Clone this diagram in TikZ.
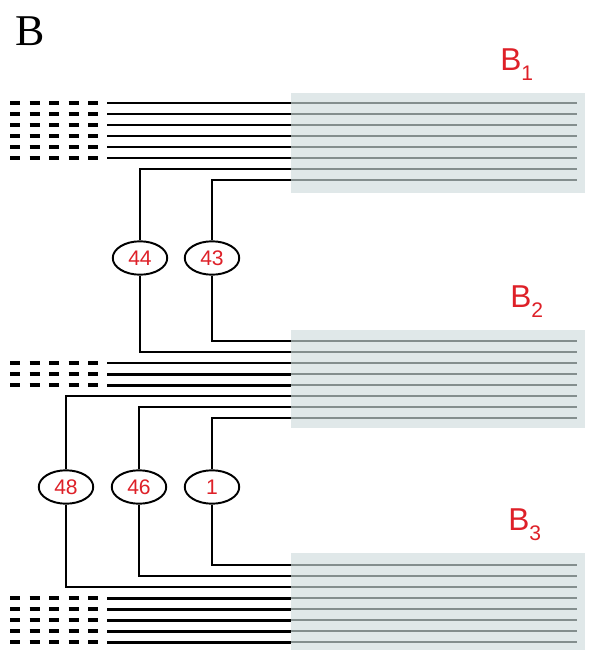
\documentclass[tikz,border=0pt]{standalone}
\usepackage{fontspec}
\setmainfont{Liberation Serif}
\newfontfamily\labelfont{Liberation Sans}
\usetikzlibrary{positioning,shapes.geometric}
\definecolor{softgrey}{RGB}{224,232,233}
\definecolor{wiregrey}{RGB}{132,142,142}
\definecolor{labelred}{RGB}{222,32,40}
\tikzset{
    wire/.style={
        line width=1.7pt,
        black
    },
    dashwire/.style={
        line width=1.8pt,
        black,
        dash pattern=on 5.7pt off 5.4pt
    },
    link/.style={
        line width=1.1pt,
        black
    },
    greyline/.style={
        line width=1.3pt,
        wiregrey
    },
    band/.style={
        fill=softgrey,
        draw=none
    },
    bond/.style={
        draw,
        ellipse,
        line width=1.1pt,
        fill=white,
        minimum width=31pt,
        minimum height=19pt,
        inner sep=0pt,
        font=\labelfont\fontsize{12}{12}\selectfont,
        text=labelred
    },
    blocklabel/.style={
        font=\labelfont\fontsize{18}{18}\selectfont,
        text=labelred,
        anchor=base west,
        inner sep=0pt
    }
}

\begin{document}
\begin{tikzpicture}[x=0.2mm,y=-0.2mm]

\useasboundingbox (0,0) rectangle (591,650);

% Grey bands
\fill[band] (291,93) rectangle (585,193);
\fill[band] (291,330) rectangle (585,428);
\fill[band] (291,553) rectangle (585,650);

% Strands inside the bands
\foreach \y [count=\i] in {103,114,...,180} {
    \coordinate (b1r\i) at (291,\y);
    \draw[greyline] (b1r\i) -- (577,\y);
}
\foreach \y [count=\i] in {341,352,...,418} {
    \coordinate (b2r\i) at (291,\y);
    \draw[greyline] (b2r\i) -- (577,\y);
}
\foreach \y [count=\i] in {565,576,...,642} {
    \coordinate (b3r\i) at (291,\y);
    \draw[greyline] (b3r\i) -- (577,\y);
}

% Free strands
\foreach \y [count=\i] in {103,114,...,158} {
    \draw[dashwire] (10,\y) -- (98,\y);
    \draw[wire] (107,\y) -- (b1r\i);
}
\foreach \y [count=\i from 3] in {363,374,385} {
    \draw[dashwire] (10,\y) -- (98,\y);
    \draw[wire] (107,\y) -- (b2r\i);
}
\foreach \y [count=\i from 4] in {598,609,...,642} {
    \draw[dashwire] (10,\y) -- (98,\y);
    \draw[wire] (107,\y) -- (b3r\i);
}

% Bonds
\node[bond] (e44) at (140,258) {44};
\node[bond] (e43) at (212,258) {43};
\node[bond] (e48) at (66,487) {48};
\node[bond] (e46) at (139,487) {46};
\node[bond] (e1) at (212,487) {1};

% Links between the bands
\draw[link] (b1r7) -| (e44.north);
\draw[link] (e44.south) |- (b2r2);
\draw[link] (b1r8) -| (e43.north);
\draw[link] (e43.south) |- (b2r1);
\draw[link] (b2r6) -| (e48.north);
\draw[link] (e48.south) |- (b3r3);
\draw[link] (b2r7) -| (e46.north);
\draw[link] (e46.south) |- (b3r2);
\draw[link] (b2r8) -| (e1.north);
\draw[link] (e1.south) |- (b3r1);

% Labels
\node[font=\fontsize{25}{25}\selectfont, anchor=base west, inner sep=0pt] (title) at (15,45) {B};
\node[blocklabel] (lb1) at (500,70) {B\raisebox{-6pt}{\fontsize{12}{12}\selectfont 1}};
\node[blocklabel] (lb2) at (510,307) {B\raisebox{-6pt}{\fontsize{12}{12}\selectfont 2}};
\node[blocklabel] (lb3) at (508,530) {B\raisebox{-6pt}{\fontsize{12}{12}\selectfont 3}};

\end{tikzpicture}
\end{document}
